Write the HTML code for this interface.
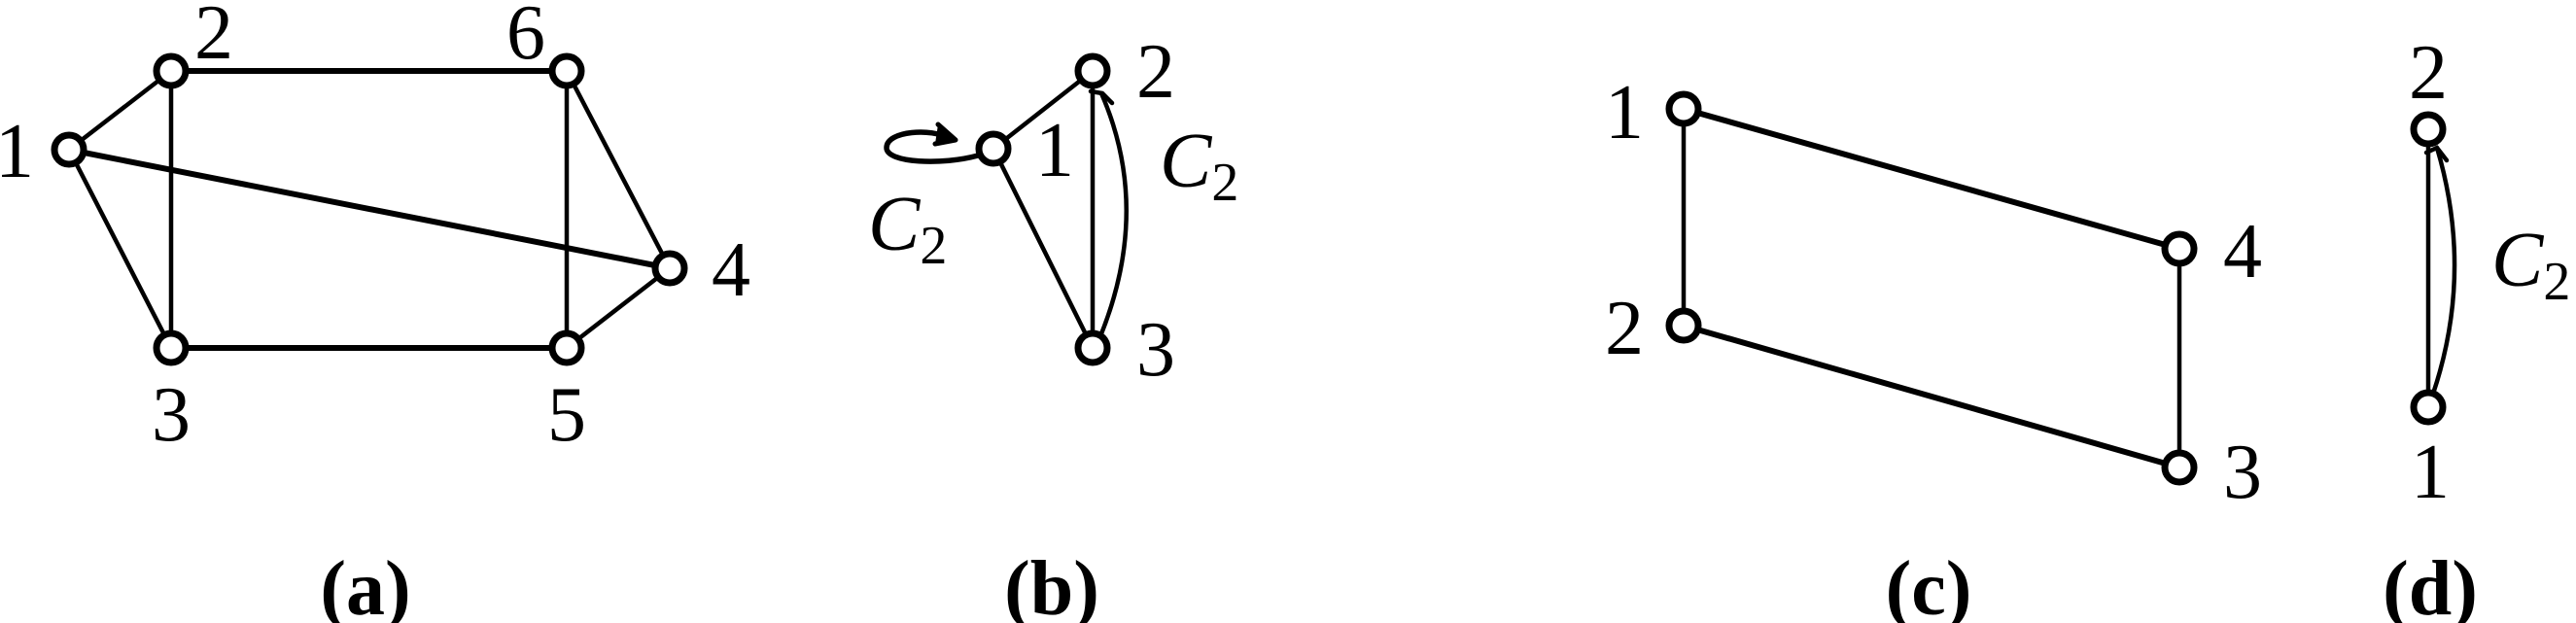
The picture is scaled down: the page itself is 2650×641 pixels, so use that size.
<!DOCTYPE html>
<html><head><style>body{margin:0;background:#fff}svg{display:block}</style></head><body>
<svg width="2650" height="641" viewBox="0 0 2650 641" xmlns="http://www.w3.org/2000/svg" font-family="Liberation Serif, serif">
<g stroke="#000" fill="none" stroke-linecap="round">
<!-- (a) -->
<line x1="71" y1="154" x2="176" y2="73" stroke-width="4.5"/>
<line x1="71" y1="154" x2="176" y2="358" stroke-width="4.5"/>
<line x1="71" y1="154" x2="689" y2="276" stroke-width="6"/>
<line x1="176" y1="73" x2="583" y2="73" stroke-width="6"/>
<line x1="176" y1="73" x2="176" y2="358" stroke-width="4.5"/>
<line x1="176" y1="358" x2="583" y2="358" stroke-width="6"/>
<line x1="583" y1="73" x2="583" y2="358" stroke-width="4.5"/>
<line x1="583" y1="73" x2="689" y2="276" stroke-width="4.5"/>
<line x1="583" y1="358" x2="689" y2="276" stroke-width="4.5"/>
<!-- (b) -->
<line x1="1022" y1="153" x2="1124" y2="73" stroke-width="4.5"/>
<line x1="1022" y1="153" x2="1124" y2="358" stroke-width="4.5"/>
<line x1="1124" y1="73" x2="1124" y2="358" stroke-width="4.5"/>
<path d="M1132,346 Q1185,215 1133,96" stroke-width="4.5"/>
<path d="M1122,94 L1134,96 L1144,106" stroke-width="4.5"/>
<path d="M1006,160 C970,170 912,168 912,152 C912,134 960,132 975,142" stroke-width="5.5"/>
<path d="M965,128 L983,144 L962,148" stroke-width="5" fill="#000" stroke-linejoin="round"/>
<!-- (c) -->
<line x1="1732" y1="112" x2="2242" y2="256" stroke-width="6"/>
<line x1="1732" y1="335" x2="2242" y2="481" stroke-width="6"/>
<line x1="1732" y1="112" x2="1732" y2="335" stroke-width="4.5"/>
<line x1="2242" y1="256" x2="2242" y2="481" stroke-width="4.5"/>
<!-- (d) -->
<line x1="2498" y1="133" x2="2498" y2="419" stroke-width="4.5"/>
<path d="M2503,405 Q2545,280 2507,152" stroke-width="4.5"/>
<path d="M2496,157 L2507,152 L2517,165" stroke-width="4.5"/>
</g>
<g stroke="#000" stroke-width="7" fill="#fff">
<circle cx="71" cy="154" r="15"/><circle cx="176" cy="73" r="15"/><circle cx="583" cy="73" r="15"/>
<circle cx="689" cy="276" r="15"/><circle cx="176" cy="358" r="15"/><circle cx="583" cy="358" r="15"/>
<circle cx="1022" cy="153" r="15"/><circle cx="1124" cy="73" r="15"/><circle cx="1124" cy="358" r="15"/>
<circle cx="1732" cy="112" r="15"/><circle cx="1732" cy="335" r="15"/><circle cx="2242" cy="256" r="15"/><circle cx="2242" cy="481" r="15"/>
<circle cx="2498" cy="133" r="15"/><circle cx="2498" cy="419" r="15"/>
</g>
<g font-size="80" text-anchor="middle" fill="#000">
<text x="15" y="182">1</text><text x="220" y="60">2</text><text x="541" y="60">6</text>
<text x="752" y="304">4</text><text x="176" y="453">3</text><text x="583" y="453">5</text>
<text x="1189" y="100">2</text><text x="1085" y="181">1</text><text x="1189" y="386">3</text>
<text x="1671" y="142">1</text><text x="1671" y="364">2</text><text x="2307" y="285">4</text><text x="2307" y="512">3</text>
<text x="2498" y="101">2</text><text x="2500" y="512">1</text>
<g font-weight="bold"><text x="376" y="632">(a)</text><text x="1082" y="632">(b)</text><text x="1984" y="632">(c)</text><text x="2500" y="632">(d)</text></g>
</g>
<g font-size="80" fill="#000">
<text x="1193" y="192" font-style="italic">C<tspan font-size="56" font-style="normal" dy="14">2</tspan></text>
<text x="893" y="257" font-style="italic">C<tspan font-size="56" font-style="normal" dy="14">2</tspan></text>
<text x="2563" y="294" font-style="italic">C<tspan font-size="56" font-style="normal" dy="14">2</tspan></text>
</g>
</svg>
</body></html>
